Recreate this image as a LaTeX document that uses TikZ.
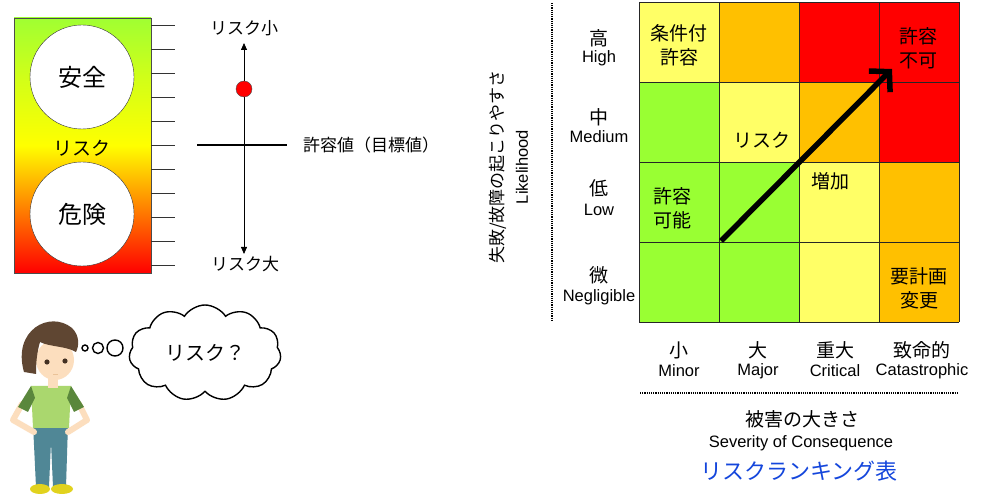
\documentclass[tikz,border=0pt]{standalone}
\usepackage{fontspec}
\setmainfont{Liberation Sans}
\newfontfamily\jp{Noto Sans CJK JP}
\usetikzlibrary{shapes.symbols,arrows.meta}

\definecolor{riskgreen}{RGB}{153,255,51}
\definecolor{risklow}{RGB}{255,255,102}
\definecolor{riskmid}{RGB}{255,192,0}
\definecolor{riskhigh}{RGB}{255,0,0}
\definecolor{bargreen}{RGB}{160,255,50}
\definecolor{titleblue}{RGB}{20,70,220}
\definecolor{skin}{RGB}{252,222,190}
\definecolor{hair}{RGB}{95,70,50}
\definecolor{shirt}{RGB}{170,215,110}
\definecolor{sleeve}{RGB}{90,135,60}
\definecolor{jeans}{RGB}{80,135,150}
\definecolor{shoe}{RGB}{225,210,30}

% green (safe) at the top, red (danger) at the bottom
\pgfdeclareverticalshading{riskbar}{100bp}{color(0bp)=(red); color(25bp)=(red); color(37.5bp)=(orange);
    color(50bp)=(yellow); color(62.5bp)=(yellow!55!bargreen); color(75bp)=(bargreen); color(100bp)=(bargreen)}

\begin{document}
\begin{tikzpicture}[x=1pt, y=-1pt,
    jplabel/.style={font=\jp\fontsize{19}{24}\selectfont, align=center, inner sep=0pt},
    enlabel/.style={font=\fontsize{16.5}{19}\selectfont, inner sep=0pt},
    sclabel/.style={font=\jp\fontsize{17}{20}\selectfont, inner sep=0pt},
    bigcircle/.style={circle, draw=black!80, fill=white, minimum size=104pt, font=\jp\fontsize{24}{28}\selectfont},
    gridline/.style={draw=black!85, line width=0.8pt},
    tick/.style={draw=black!80, line width=0.7pt},
    bubble/.style={circle, draw, line width=1.4pt, inner sep=0pt}
]
    \fill[white] (0,0) rectangle (989,494);
    \useasboundingbox (0,0) rectangle (989,494);

    % risk bar
    \shade[shading=riskbar] (14,18) rectangle (151,273);
    \draw[black!70, line width=0.8pt] (14,18) rectangle (151,273);
    \node[bigcircle] (safe) at (82,77) {安全};
    \node[bigcircle] (danger) at (82,214) {危険};
    \node[font=\jp\fontsize{19}{22}\selectfont] (barrisk) at (82,148) {リスク};
    \foreach \ty in {25,49,...,265}
        \draw[tick] (151,\ty) -- (175,\ty);

    % scale
    \node[sclabel] (small) at (244,28) {リスク小};
    \node[sclabel] (large) at (245,264) {リスク大};
    \coordinate (sctop) at (244,43);
    \coordinate (scbot) at (244,254);
    \draw[line width=0.8pt, {Triangle[length=7pt,width=6pt]}-{Triangle[length=7pt,width=6pt]}] (sctop) -- (scbot);
    \coordinate (tolL) at (197,145);
    \coordinate (tolR) at (287,145);
    \draw[line width=1.6pt] (tolL) -- (tolR);
    \node[sclabel, anchor=west] (target) at (303,145) {許容値（目標値）};
    \node[circle, fill=red, draw=black!70, minimum size=16pt, inner sep=0pt] (now) at (244,89) {};

    % boy
    \fill[jeans] (33,424) -- (68,424) -- (66,487) -- (53,487) -- (51,442) -- (49,487) -- (36,487) -- cycle;
    \fill[shoe] (40,489) ellipse (10pt and 5pt);
    \fill[shoe] (62,489) ellipse (11pt and 5pt);
    \draw[skin, line width=6pt, line cap=round, line join=round] (22,404) -- (13,420) -- (34,432);
    \draw[skin, line width=6pt, line cap=round, line join=round] (79,404) -- (87,420) -- (68,432);
    \fill[shirt] (31,386) -- (71,386) -- (69,428) -- (33,428) -- cycle;
    \fill[sleeve] (31,386) -- (18,407) -- (28,412) -- (35,398) -- cycle;
    \fill[sleeve] (71,386) -- (84,407) -- (74,412) -- (67,398) -- cycle;
    \fill[skin] (48,372) rectangle (58,388);
    \fill[skin] (55,360) ellipse (19pt and 20pt);
    \fill[hair] (24,372) .. controls (12,330) and (50,310) .. (72,328)
        .. controls (80,336) and (79,346) .. (76,352)
        .. controls (66,346) and (50,347) .. (40,342)
        .. controls (37,352) and (36,362) .. (36,374) -- cycle;
    \fill[hair!70!black] (47,362) circle (2.6pt);
    \fill[hair!70!black] (65,361) circle (2.6pt);
    \draw[skin!70!brown, line width=0.6pt] (53,374) -- (58,374);

    % thought
    \node[bubble, minimum size=6pt] (b1) at (85,348) {};
    \node[bubble, minimum size=11pt] (b2) at (98,348) {};
    \node[bubble, minimum size=16pt] (b3) at (115,348) {};
    \node[cloud, draw, line width=1.4pt, cloud puffs=11, cloud puff arc=115, aspect=1.6,
        minimum width=152pt, minimum height=96pt, font=\jp\fontsize{20}{24}\selectfont] (think) at (205,353) {リスク？};

    % likelihood axis
    \draw[densely dotted, line width=1.2pt] (552,3) -- (552,322);
    \node[sclabel, rotate=90] (likejp) at (498,167) {失敗/故障の起こりやすさ};
    \node[enlabel, rotate=90] (likeen) at (522,167) {Likelihood};
    \node[jplabel] (r1a) at (599,38) {高};
    \node[enlabel] (r1b) at (599,58) {High};
    \node[jplabel] (r2a) at (599,117) {中};
    \node[enlabel] (r2b) at (599,137) {Medium};
    \node[jplabel] (r3a) at (599,188) {低};
    \node[enlabel] (r3b) at (599,210) {Low};
    \node[jplabel] (r4a) at (599,275) {微};
    \node[enlabel] (r4b) at (599,297) {Negligible};

    % ranking matrix
    \foreach \r/\ca/\cb/\cc/\cd in {0/risklow/riskmid/riskhigh/riskhigh,
            1/riskgreen/risklow/riskmid/riskhigh,
            2/riskgreen/riskgreen/risklow/riskmid,
            3/riskgreen/riskgreen/risklow/riskmid} {
        \fill[\ca] (639,2+80*\r) rectangle ++(80,80);
        \fill[\cb] (719,2+80*\r) rectangle ++(80,80);
        \fill[\cc] (799,2+80*\r) rectangle ++(80,80);
        \fill[\cd] (879,2+80*\r) rectangle ++(80,80);
    }
    \foreach \k in {0,...,4} {
        \draw[gridline] (639+80*\k,2) -- ++(0,320);
        \draw[gridline] (639,2+80*\k) -- ++(320,0);
    }
    \node[jplabel] (cond) at (679,45) {条件付\\許容};
    \node[jplabel] (ng) at (918,48) {許容\\不可};
    \node[jplabel] (riskword) at (762,140) {リスク};
    \node[jplabel] (rise) at (830,181) {増加};
    \node[jplabel] (ok) at (672,208) {許容\\可能};
    \node[jplabel] (replan) at (919,288) {要計画\\変更};
    \coordinate (arrS) at (721,241);
    \coordinate (arrE) at (892,69);
    \draw[line width=5.5pt, -{Straight Barb[length=14pt,width=30pt]}] (arrS) -- (arrE);

    % severity axis
    \node[jplabel] (c1a) at (679,350) {小};
    \node[enlabel] (c1b) at (679,371) {Minor};
    \node[jplabel] (c2a) at (758,350) {大};
    \node[enlabel] (c2b) at (758,371) {Major};
    \node[jplabel] (c3a) at (835,350) {重大};
    \node[enlabel] (c3b) at (835,371) {Critical};
    \node[jplabel] (c4a) at (922,350) {致命的};
    \node[enlabel] (c4b) at (922,371) {Catastrophic};
    \draw[densely dotted, line width=1.2pt] (640,393) -- (958,393);
    \node[jplabel] (sevjp) at (802,419) {被害の大きさ};
    \node[enlabel] (seven) at (801,443) {Severity of Consequence};
    \node[font=\jp\fontsize{22}{26}\selectfont, text=titleblue] (title) at (799,471) {リスクランキング表};
\end{tikzpicture}
\end{document}
